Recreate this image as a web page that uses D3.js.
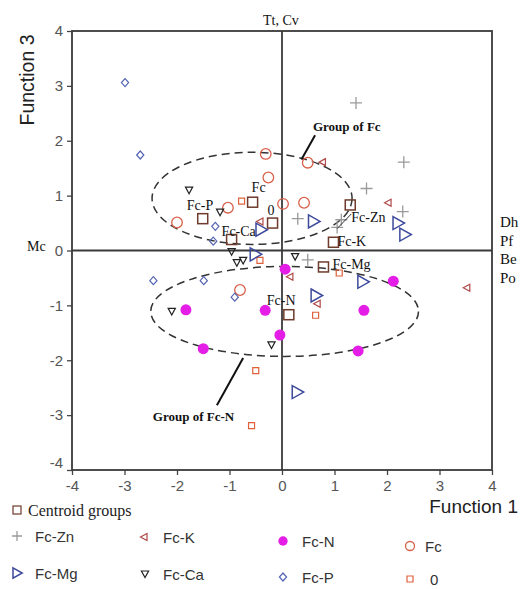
<!DOCTYPE html>
<html>
<head>
<meta charset="utf-8">
<script src="https://cdn.jsdelivr.net/npm/d3@7"></script>
<style>
  html,body{margin:0;padding:0;background:#fff;}
  svg{display:block;}
</style>
</head>
<body>
<div id="chart"></div>
<script>
// ---------- data ----------
const xTicks = [-4,-3,-2,-1,0,1,2,3,4];
const yTicks = [-4,-3,-2,-1,0,1,2,3,4];

const fcZn = [[1.41,2.69],[2.32,1.61],[1.61,1.13],[2.30,0.71],[0.30,0.58],[1.13,0.56],[1.05,0.42],[0.49,-0.17]];
const fcK  = [[0.77,1.61],[2.02,0.87],[-0.42,0.53],[0.15,-0.48],[0.67,-0.97],[3.52,-0.68]];
const fcN  = [[-1.83,-1.08],[-0.32,-1.09],[-1.50,-1.79],[0.06,-0.34],[-0.04,-1.54],[1.56,-1.09],[1.45,-1.83],[2.12,-0.56]];
const fcO  = [[-2.00,0.51],[-1.03,0.78],[-0.31,1.76],[-0.26,1.33],[0.49,1.60],[0.02,0.85],[0.42,0.87],[-0.80,-0.72]];
const fcMg = [[-0.40,0.38],[0.60,0.53],[2.21,0.50],[2.34,0.29],[-0.51,-0.07],[1.54,-0.57],[0.65,-0.82],[0.29,-2.58]];
const fcCa = [[-1.77,1.10],[-1.18,0.70],[-0.96,-0.02],[-0.86,-0.22],[-0.74,-0.18],[-2.10,-1.11],[-0.20,-1.72],[0.25,-0.11]];
const fcP  = [[-2.99,3.06],[-2.70,1.74],[-1.27,0.44],[-1.31,0.17],[-2.45,-0.55],[-1.49,-0.55],[-0.90,-0.85]];
const grp0 = [[-0.77,0.90],[-0.42,-0.18],[-0.50,-2.19],[-0.58,-3.19],[1.09,-0.41],[0.64,-1.18]];

const centroidNames = ["Fc-P","Fc-Ca","Fc","0","Fc-Zn","Fc-K","Fc-Mg","Fc-N"];
const centroidX     = [-1.51,-0.96,-0.56,-0.18,1.30,0.98,0.79,0.13];
const centroidY     = [0.58,0.20,0.88,0.50,0.83,0.15,-0.30,-1.17];

// group ellipses: [cx, cy, rx, ry] in function units
const ellipseFc  = [-0.57, 0.95, 1.905, 0.84];
const ellipseFcN = [0.05, -1.11, 2.55, 0.82];

const legendNames = ["Fc-Zn","Fc-K","Fc-N","Fc","Fc-Mg","Fc-Ca","Fc-P","0"];

// ---------- layout ----------
const W = 527, H = 589;
const svg = d3.select("#chart").append("svg").attr("width", W).attr("height", H)
  .style("font-family","Arial, 'Liberation Sans', sans-serif");

const x = d3.scaleLinear().domain([-4,4]).range([72,492]);
const y = d3.scaleLinear().domain([-4,4]).range([470,31]);

// styles per series
const styles = {
  "Fc-Zn": {path:"M-6,0H6M0,-6V6", stroke:"#9a9a9a", fill:"none", sw:1.3},
  "Fc-K":  {path:"M3,-3.5L-3.5,0L3,3.5Z", stroke:"#b04848", fill:"none", sw:1.2},
  "Fc-N":  {circle:5.5, stroke:"none", fill:"#e41ee6", sw:0},
  "Fc":    {circle:5.3, stroke:"#d8604a", fill:"none", sw:1.3},
  "Fc-Mg": {path:"M-5,-6.5L6.5,0L-5,6.5Z", stroke:"#3d4a9c", fill:"none", sw:1.5},
  "Fc-Ca": {path:"M-3.6,-3L3.6,-3L0,3.6Z", stroke:"#222", fill:"none", sw:1.2},
  "Fc-P":  {path:"M0,-4L3.6,0L0,4L-3.6,0Z", stroke:"#5565b5", fill:"none", sw:1.2},
  "0":     {path:"M-3,-3H3V3H-3Z", stroke:"#e0603a", fill:"none", sw:1.2}
};
const seriesData = {"Fc-Zn":fcZn,"Fc-K":fcK,"Fc-N":fcN,"Fc":fcO,"Fc-Mg":fcMg,"Fc-Ca":fcCa,"Fc-P":fcP,"0":grp0};

// axes
const gx = svg.append("g").attr("transform",`translate(0,${y(-4)})`)
  .call(d3.axisBottom(x).tickValues(xTicks).tickSize(5).tickPadding(5).tickFormat(d=>String(d)));
const gy = svg.append("g").attr("transform",`translate(${x(-4)},0)`)
  .call(d3.axisLeft(y).tickValues(yTicks).tickSize(5).tickPadding(4).tickFormat(d=>String(d)));
[gx,gy].forEach(g=>{
  g.select(".domain").remove();
  g.selectAll(".tick line").attr("stroke","#444").attr("stroke-width",1.3);
  g.selectAll(".tick text").attr("fill","#555").style("font-size","15px").style("font-family","Arial, 'Liberation Sans', sans-serif");
});
gy.selectAll(".tick text").filter(d=>d===-4).attr("dy","-0.2em");

// frame + zero lines
svg.append("rect").attr("x",x(-4)).attr("y",y(4)).attr("width",x(4)-x(-4)).attr("height",y(-4)-y(4))
  .attr("fill","none").attr("stroke","#3a3a3a").attr("stroke-width",1.8);
svg.append("line").attr("x1",x(0)).attr("x2",x(0)).attr("y1",y(4)).attr("y2",y(-4)).attr("stroke","#3a3a3a").attr("stroke-width",1.8);
svg.append("line").attr("x1",x(-4)).attr("x2",x(4)).attr("y1",y(0)).attr("y2",y(0)).attr("stroke","#3a3a3a").attr("stroke-width",1.8);

// ellipses
[ellipseFc, ellipseFcN].forEach(e=>{
  svg.append("ellipse").attr("cx",x(e[0])).attr("cy",y(e[1]))
    .attr("rx",x(e[0]+e[2])-x(e[0])).attr("ry",y(e[1]-e[3])-y(e[1]))
    .attr("fill","none").attr("stroke","#333").attr("stroke-width",1.5).attr("stroke-dasharray","8,5");
});

// markers
function drawMarker(g, st, px, py, scale){
  scale = scale||1;
  if (st.circle) {
    g.append("circle").attr("cx",px).attr("cy",py).attr("r",st.circle*scale)
      .attr("fill",st.fill).attr("stroke",st.stroke).attr("stroke-width",st.sw);
  } else {
    g.append("path").attr("d",st.path).attr("transform",`translate(${px},${py}) scale(${scale})`)
      .attr("fill",st.fill).attr("stroke",st.stroke).attr("stroke-width",st.sw/scale);
  }
}
const gm = svg.append("g");
Object.keys(seriesData).forEach(k=>{
  seriesData[k].forEach(p=>drawMarker(gm, styles[k], x(p[0]), y(p[1])));
});

// centroids
centroidNames.forEach((n,i)=>{
  gm.append("rect").attr("x",x(centroidX[i])-5).attr("y",y(centroidY[i])-5).attr("width",10).attr("height",10)
    .attr("fill","none").attr("stroke","#6e3b2c").attr("stroke-width",1.5);
});

// centroid labels (pixel offsets from centroid)
const labelOffsets = {"Fc-P":[-16,-9],"Fc-Ca":[-10,-4],"Fc":[-1,-10],"0":[-5,-8],
                      "Fc-Zn":[1,17],"Fc-K":[4,4],"Fc-Mg":[9,2],"Fc-N":[-22,-10]};
centroidNames.forEach((n,i)=>{
  const o = labelOffsets[n];
  svg.append("text").attr("x",x(centroidX[i])+o[0]).attr("y",y(centroidY[i])+o[1])
    .text(n).attr("fill","#111").style("font-family","'Liberation Serif','Times New Roman',serif").style("font-size","14px");
});
// small leader for Fc-Zn label
svg.append("line").attr("x1",x(1.30)+1).attr("y1",y(0.83)+9).attr("x2",x(1.05)).attr("y2",y(0.40))
  .attr("stroke","#333").attr("stroke-width",1);

// group annotations
svg.append("text").attr("x",x(0.59)).attr("y",y(2.17)).text("Group of Fc")
  .style("font-family","'Liberation Serif','Times New Roman',serif").style("font-size","13px").style("font-weight","bold").attr("fill","#111");
svg.append("line").attr("x1",x(0.63)).attr("y1",y(2.10)).attr("x2",x(0.37)).attr("y2",y(1.66))
  .attr("stroke","#111").attr("stroke-width",2);
svg.append("text").attr("x",x(-2.46)).attr("y",y(-3.10)).text("Group of Fc-N")
  .style("font-family","'Liberation Serif','Times New Roman',serif").style("font-size","13px").style("font-weight","bold").attr("fill","#111");
svg.append("line").attr("x1",x(-0.74)).attr("y1",y(-1.96)).attr("x2",x(-1.24)).attr("y2",y(-2.82))
  .attr("stroke","#111").attr("stroke-width",2);

// axis titles
svg.append("text").attr("transform",`translate(34,80) rotate(-90)`).attr("text-anchor","middle")
  .text("Function 3").style("font-size","19.5px").attr("fill","#222");
svg.append("text").attr("x",518).attr("y",513).attr("text-anchor","end")
  .text("Function 1").style("font-size","19px").attr("fill","#222");

// variable labels
const serif = "'Liberation Serif','Times New Roman',serif";
svg.append("text").attr("x",263).attr("y",25).text("Tt, Cv").style("font-family",serif).style("font-size","14px").attr("fill","#111");
svg.append("text").attr("x",27).attr("y",251).text("Mc").style("font-family",serif).style("font-size","14px").attr("fill","#111");
["Dh","Pf","Be","Po"].forEach((t,i)=>{
  svg.append("text").attr("x",500).attr("y",227+i*18.7).text(t).style("font-family",serif).style("font-size","15px").attr("fill","#111");
});

// legend
const lg = svg.append("g");
lg.append("rect").attr("x",13).attr("y",506).attr("width",8).attr("height",8).attr("fill","none").attr("stroke","#6e3b2c").attr("stroke-width",1.2);
lg.append("text").attr("x",28).attr("y",516).text("Centroid groups").style("font-family",serif).style("font-size","16px").attr("fill","#222");
const legPos = [[17,540,35],[144,541,163],[283,545,302],[410,550,425],[17,577,35],[145,578,163],[283,581,302],[410,583,430]];
legendNames.forEach((n,i)=>{
  const p = legPos[i];
  drawMarker(lg, styles[n], p[0], p[1]-4, n==="Fc-N"||n==="Fc"||n==="Fc-Zn"?0.85:(n==="Fc-Mg"?0.8:1));
  lg.append("text").attr("x",p[2]).attr("y",p[1]+2).text(n).style("font-size","15px").attr("fill","#333");
});
</script>
</body>
</html>
